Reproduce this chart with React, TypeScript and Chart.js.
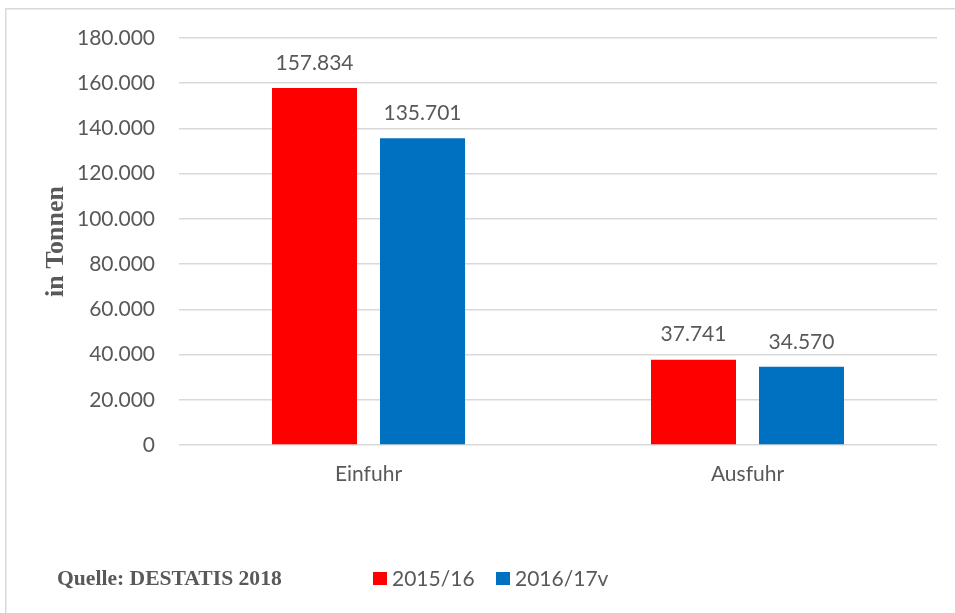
import React, { useEffect, useRef } from "react";
import { Chart, registerables } from "chart.js";

Chart.register(...registerables);

const categories = ["Einfuhr", "Ausfuhr"];
const seriesLabels = ["2015/16", "2016/17v"];
const values2015 = [157834, 37741];
const values2016 = [135701, 34570];
const seriesColors = ["#ff0000", "#0070c0"];
const yTicks = [0, 20000, 40000, 60000, 80000, 100000, 120000, 140000, 160000, 180000];
const yTitle = "in Tonnen";
const sourceText = "Quelle: DESTATIS 2018";

const TEXT = "#595959";
const SANS = "Lato, 'Open Sans', sans-serif";
const SERIF = "'Liberation Serif', 'DejaVu Serif', serif";

const fmt = (v: number) => String(Math.round(v)).replace(/\B(?=(\d{3})+(?!\d))/g, ".");

const decorPlugin = {
  id: "decor",
  beforeDraw(chart: any) {
    const ctx = chart.ctx;
    ctx.save();
    ctx.fillStyle = "#ffffff";
    ctx.fillRect(0, 0, chart.width, chart.height);
    ctx.strokeStyle = "#d9d9d9";
    ctx.lineWidth = 1.5;
    ctx.strokeRect(5.75, 8.75, 2000, 2000);
    ctx.restore();
  },
  afterDatasetsDraw(chart: any) {
    const ctx = chart.ctx;
    ctx.save();
    ctx.font = `21px ${SANS}`;
    ctx.fillStyle = TEXT;
    ctx.textAlign = "center";
    ctx.textBaseline = "middle";
    chart.data.datasets.forEach((ds: any, i: number) => {
      const meta = chart.getDatasetMeta(i);
      meta.data.forEach((el: any, j: number) => {
        ctx.fillText(fmt(ds.data[j]), el.x, el.y - 25);
      });
    });
    // source text
    ctx.font = `bold 21.6px ${SERIF}`;
    ctx.textAlign = "left";
    ctx.fillText(sourceText, 57, 579);
    // legend
    const items = [
      { x: 373, text: chart.data.datasets[0].label, color: chart.data.datasets[0].backgroundColor },
      { x: 496, text: chart.data.datasets[1].label, color: chart.data.datasets[1].backgroundColor },
    ];
    ctx.font = `21px ${SANS}`;
    items.forEach((it) => {
      ctx.fillStyle = it.color;
      ctx.fillRect(it.x, 572, 14, 13);
      ctx.fillStyle = TEXT;
      ctx.fillText(it.text, it.x + 19, 579);
    });
    ctx.restore();
  },
};

export default function App() {
  const ref = useRef<HTMLCanvasElement | null>(null);
  useEffect(() => {
    if (!ref.current) return;
    const chart = new Chart(ref.current, {
      type: "bar",
      data: {
        labels: categories,
        datasets: [
          { label: seriesLabels[0], data: values2015, backgroundColor: seriesColors[0] },
          { label: seriesLabels[1], data: values2016, backgroundColor: seriesColors[1] },
        ],
      },
      options: {
        responsive: false,
        animation: false,
        layout: { padding: { left: 0, top: 38, right: 18, bottom: 0 } },
        datasets: {
          bar: { categoryPercentage: 0.57, barPercentage: 0.787 },
        },
        plugins: {
          legend: { display: false },
          tooltip: { enabled: false },
        },
        scales: {
          x: {
            grid: { display: false, drawTicks: false },
            border: { display: false },
            ticks: { color: TEXT, font: { family: SANS, size: 21 }, padding: 17 },
            afterFit: (s: any) => {
              s.height = 168;
            },
          },
          y: {
            min: 0,
            max: 180000,
            afterBuildTicks: (s: any) => {
              s.ticks = yTicks.map((v) => ({ value: v }));
            },
            grid: { color: "#d9d9d9", lineWidth: 1.5, drawTicks: false },
            border: { display: false },
            ticks: {
              color: TEXT,
              font: { family: SANS, size: 21 },
              padding: 24,
              callback: (v: any) => fmt(Number(v)),
            },
            title: {
              display: true,
              text: yTitle,
              color: TEXT,
              font: { family: SERIF, size: 26, weight: "bold" },
              padding: { top: 41, bottom: 0 },
            },
            afterFit: (s: any) => {
              s.width = 179;
            },
          },
        },
      },
      plugins: [decorPlugin],
    } as any);
    return () => chart.destroy();
  }, []);
  return (
    <div style={{ position: "absolute", left: 0, top: 0, width: 955, height: 613 }}>
      <canvas ref={ref} width={955} height={613} style={{ display: "block" }} />
    </div>
  );
}
